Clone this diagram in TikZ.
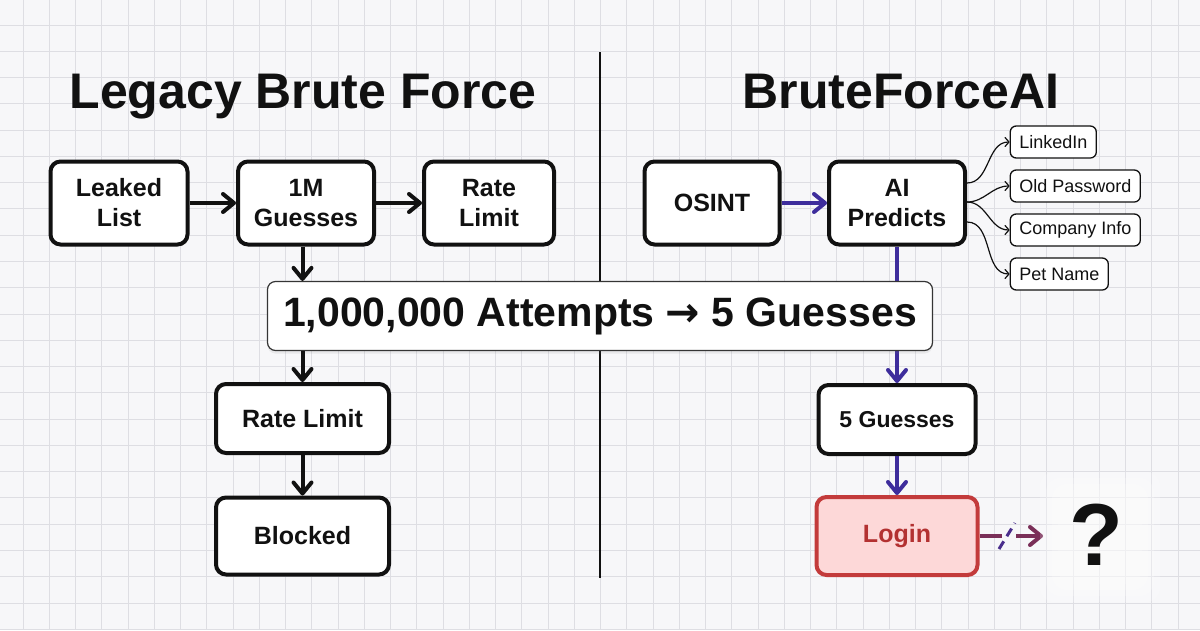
\documentclass[tikz,border=0pt]{standalone}
\usepackage{fontspec}
\setmainfont{Liberation Sans}
\newfontfamily\djv{DejaVu Sans}
\usetikzlibrary{arrows.meta,shadows}
\definecolor{bgc}{HTML}{F7F7F9}
\definecolor{gridc}{HTML}{DEDEE3}
\definecolor{purp}{HTML}{3E2D9C}
\definecolor{maroon}{HTML}{7A2F58}
\definecolor{slashc}{HTML}{4A2E8C}
\definecolor{loginborder}{HTML}{C33B3B}
\definecolor{loginfill}{HTML}{FDD8D8}
\definecolor{logintext}{HTML}{B33131}
\definecolor{ink}{HTML}{111111}
\tikzset{
  mainbox/.style={draw=ink, line width=4pt, rounded corners=10pt, fill=white,
    align=center, inner sep=0pt, text=ink,
    font=\bfseries\fontsize{25}{30}\selectfont},
  subbox/.style={draw=ink, line width=1.3pt, rounded corners=6pt, fill=white,
    anchor=west, inner xsep=9pt, inner ysep=0pt, minimum height=32pt,
    text=ink, font=\fontsize{18}{21}\selectfont},
  titletext/.style={anchor=base, text=ink, font=\bfseries\fontsize{50}{60}\selectfont},
  blackarr/.style={draw=ink, line width=4pt, -{Straight Barb[length=11pt,width=18pt,round]}},
  purparr/.style={draw=purp, line width=4pt, -{Straight Barb[length=11pt,width=18pt,round]}},
  thinarr/.style={draw=ink, line width=1.2pt, -{Straight Barb[length=4pt,width=9pt,round]}},
  haze/.style={fill=white, opacity=0.18, rounded corners=14pt},
}
\begin{document}
\begin{tikzpicture}[x=1pt,y=-1pt]
\useasboundingbox (0,0) rectangle (1200,630);
\fill[bgc] (0,0) rectangle (1200,630);
\foreach \i in {0,...,44} \draw[gridc, line width=0.9pt] (23+\i*26.25,0) -- (23+\i*26.25,630);
\foreach \j in {0,...,23} \draw[gridc, line width=0.9pt] (0,25+\j*26.27) -- (1200,25+\j*26.27);

% divider
\coordinate (dtop) at (600,52);
\coordinate (dbot) at (600,578);
\draw[ink, line width=1.4pt] (dtop) -- (dbot);

% titles
\node[titletext] (t1) at (303,108) {Legacy Brute Force};
\node[titletext] (t2) at (901,108) {BruteForceAI};

% left column
\node[mainbox, minimum width=137pt, minimum height=83pt] (ll) at (119,203) {Leaked\\List};
\node[mainbox, minimum width=136pt, minimum height=83pt] (g1) at (306,203) {1M\\Guesses};
\node[mainbox, minimum width=130pt, minimum height=83pt] (rl1) at (489,203) {Rate\\Limit};
\node[mainbox, minimum width=173pt, minimum height=69pt] (rl2) at (302.5,418.5) {Rate Limit};
\node[mainbox, minimum width=173pt, minimum height=77pt] (bl) at (302.5,536) {Blocked};

% right column
\node[mainbox, minimum width=135pt, minimum height=83pt] (os) at (712,203) {OSINT};
\node[mainbox, minimum width=136pt, minimum height=83pt] (ai) at (897,203) {AI\\Predicts};
\node[mainbox, minimum width=157pt, minimum height=69pt, font=\bfseries\fontsize{23}{28}\selectfont] (g5) at (897,419.5) {5 Guesses};
\node[mainbox, minimum width=161pt, minimum height=78pt, draw=loginborder, fill=loginfill, text=logintext] (lg) at (897,536) {Login};

% sub nodes
\node[subbox] (li) at (1009.6,142) {LinkedIn};
\node[subbox] (op) at (1009.6,186) {Old Password};
\node[subbox] (ci) at (1009.6,230) {Company Info};
\node[subbox] (pn) at (1009.6,274) {Pet Name};

\coordinate (s1) at (967,183);
\coordinate (s2) at (967,202);
\coordinate (s3) at (967,222);
\draw[thinarr] (s1) to[out=0,in=180] (li.west);
\draw[thinarr] (s2) to[out=0,in=180] (op.west);
\draw[thinarr] (s2) to[out=0,in=180] (ci.west);
\draw[thinarr] (s3) to[out=0,in=180] (pn.west);

% arrows
\draw[blackarr] (ll.east) -- (g1.west);
\draw[blackarr] (g1.east) -- (rl1.west);
\draw[purparr] (os.east) -- (ai.west);
\draw[purparr] (ai.south) -- (g5.north);
\draw[purparr] (g5.south) -- (lg.north);
\draw[blackarr] (rl2.south) -- (bl.north);

% banner
\node[draw=ink!85, line width=1.2pt, rounded corners=8pt, fill=white,
  minimum width=665pt, minimum height=69pt, inner sep=0pt, text=ink,
  drop shadow={opacity=0.12, shadow xshift=0pt, shadow yshift=-3pt},
  font=\bfseries\fontsize{41}{48}\selectfont] (bn) at (600,316)
  {1,000,000 Attempts {\djv\bfseries →} 5 Guesses};

\draw[blackarr] (rl2.north |- g1.south) -- (rl2.north |- bn.north);
\draw[blackarr] (rl2.north |- bn.south) -- (rl2.north);

% login broken arrow
\coordinate (b1) at (1002,536);
\coordinate (sl1) at (999,549);
\coordinate (sl2) at (1015,523);
\coordinate (b2) at (1016,536);
\coordinate (b3) at (1043,536);
\draw[maroon, line width=4pt] (lg.east) -- (b1);
\draw[slashc, line width=3pt, dash pattern=on 9pt off 6pt] (sl1) -- (sl2);
\draw[draw=maroon, line width=4pt, -{Straight Barb[length=11pt,width=18pt,round]}] (b2) -- (b3);

% question mark with soft haze
\fill[haze] (1040,472) rectangle (1160,602);
\fill[haze] (1046,478) rectangle (1154,596);
\fill[haze] (1052,484) rectangle (1148,590);
\fill[haze] (1058,490) rectangle (1142,584);
\node[text=ink, font=\bfseries\fontsize{88}{90}\selectfont, inner sep=0pt] (q) at (1096,535) {?};
\end{tikzpicture}
\end{document}
